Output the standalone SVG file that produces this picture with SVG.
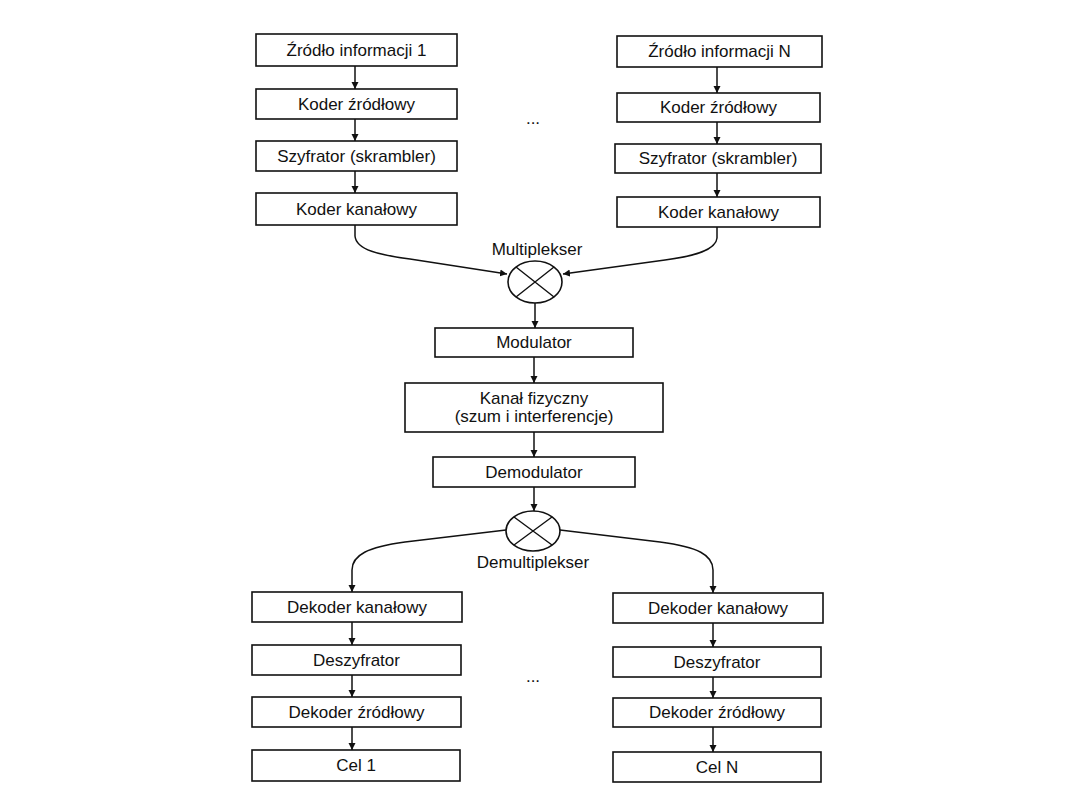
<svg xmlns="http://www.w3.org/2000/svg" width="1080" height="810" viewBox="0 0 1080 810">
<defs>
<marker id="ah" viewBox="0 0 10 10" refX="10" refY="5" markerWidth="7" markerHeight="8" markerUnits="userSpaceOnUse" orient="auto">
<path d="M0,0 L10,5 L0,10 z" fill="#111"/>
</marker>
<style>
.box{fill:#fff;stroke:#111;stroke-width:1.6}
.t{font-family:"Liberation Sans",Arial,sans-serif;font-size:17px;fill:#111;text-anchor:middle}
.c{fill:none;stroke:#111;stroke-width:1.5;marker-end:url(#ah)}
.x{fill:#fff;stroke:#111;stroke-width:1.6}
</style>
</defs>
<rect width="1080" height="810" fill="#fff"/>

<g id="src1"><rect class="box" x="256" y="34" width="201" height="32"/><text class="t" x="356.5" y="56">Źródło informacji 1</text></g>
<g id="kz1"><rect class="box" x="256" y="89" width="201" height="30"/><text class="t" x="356.5" y="110">Koder źródłowy</text></g>
<g id="sz1"><rect class="box" x="256" y="141" width="201" height="30"/><text class="t" x="356.5" y="162">Szyfrator (skrambler)</text></g>
<g id="kk1"><rect class="box" x="256" y="193" width="201" height="32"/><text class="t" x="356.5" y="215">Koder kanałowy</text></g>

<g id="srcN"><rect class="box" x="617" y="36" width="205" height="31"/><text class="t" x="719.5" y="57">Źródło informacji N</text></g>
<g id="kzN"><rect class="box" x="617" y="93" width="203" height="29"/><text class="t" x="718.5" y="113">Koder źródłowy</text></g>
<g id="szN"><rect class="box" x="615" y="144" width="206" height="29"/><text class="t" x="718" y="164">Szyfrator (skrambler)</text></g>
<g id="kkN"><rect class="box" x="617" y="197" width="203" height="30"/><text class="t" x="718.5" y="218">Koder kanałowy</text></g>

<g id="dots1"><text class="t" x="533" y="124">...</text></g>

<g id="mux"><ellipse class="x" cx="535" cy="282" rx="27" ry="21"/><path d="M516,267 L554,297 M554,267 L516,297" stroke="#111" stroke-width="1.4"/><text class="t" x="537" y="255">Multiplekser</text></g>

<g id="mod"><rect class="box" x="435" y="328" width="198" height="29"/><text class="t" x="534" y="348">Modulator</text></g>
<g id="kanal"><rect class="box" x="405" y="383" width="258" height="49"/><text class="t" x="534" y="404">Kanał fizyczny</text><text class="t" x="534" y="422">(szum i interferencje)</text></g>
<g id="demod"><rect class="box" x="433" y="457" width="202" height="30"/><text class="t" x="534" y="478">Demodulator</text></g>

<g id="demux"><ellipse class="x" cx="533" cy="531" rx="27" ry="20"/><path d="M514,517 L552,545 M552,517 L514,545" stroke="#111" stroke-width="1.4"/><text class="t" x="533" y="568">Demultiplekser</text></g>

<g id="dk1"><rect class="box" x="252" y="592" width="210" height="30"/><text class="t" x="357" y="613">Dekoder kanałowy</text></g>
<g id="ds1"><rect class="box" x="252" y="645" width="209" height="30"/><text class="t" x="356.5" y="666">Deszyfrator</text></g>
<g id="dz1"><rect class="box" x="252" y="697" width="209" height="30"/><text class="t" x="356.5" y="718">Dekoder źródłowy</text></g>
<g id="cel1"><rect class="box" x="252" y="750" width="208" height="31"/><text class="t" x="356" y="771">Cel 1</text></g>

<g id="dkN"><rect class="box" x="613" y="593" width="210" height="30"/><text class="t" x="718" y="614">Dekoder kanałowy</text></g>
<g id="dsN"><rect class="box" x="613" y="647" width="208" height="30"/><text class="t" x="717" y="668">Deszyfrator</text></g>
<g id="dzN"><rect class="box" x="613" y="698" width="208" height="29"/><text class="t" x="717" y="718">Dekoder źródłowy</text></g>
<g id="celN"><rect class="box" x="613" y="752" width="208" height="30"/><text class="t" x="717" y="773">Cel N</text></g>

<g id="dots2"><text class="t" x="533" y="682">...</text></g>

<g id="connectors">
<path class="c" d="M355,66 V89"/>
<path class="c" d="M355,119 V141"/>
<path class="c" d="M355,171 V193"/>
<path class="c" d="M717,67 V93"/>
<path class="c" d="M717,122 V144"/>
<path class="c" d="M717,173 V197"/>
<path class="c" d="M355,225 V236 C356,250 380,255 410,259 L507,274"/>
<path class="c" d="M717,227 V238 C716,250 695,256 665,260 L563,274"/>
<path class="c" d="M535,303 V328"/>
<path class="c" d="M534,357 V383"/>
<path class="c" d="M534,432 V457"/>
<path class="c" d="M534,487 V511"/>
<path class="c" d="M506,530 L405,542 C368,547 352,555 352,570 V592"/>
<path class="c" d="M560,530 L660,542 C698,547 713,555 713,570 V593"/>
<path class="c" d="M352,622 V645"/>
<path class="c" d="M352,675 V697"/>
<path class="c" d="M352,727 V750"/>
<path class="c" d="M713,623 V647"/>
<path class="c" d="M713,677 V698"/>
<path class="c" d="M713,727 V752"/>
</g>
</svg>
